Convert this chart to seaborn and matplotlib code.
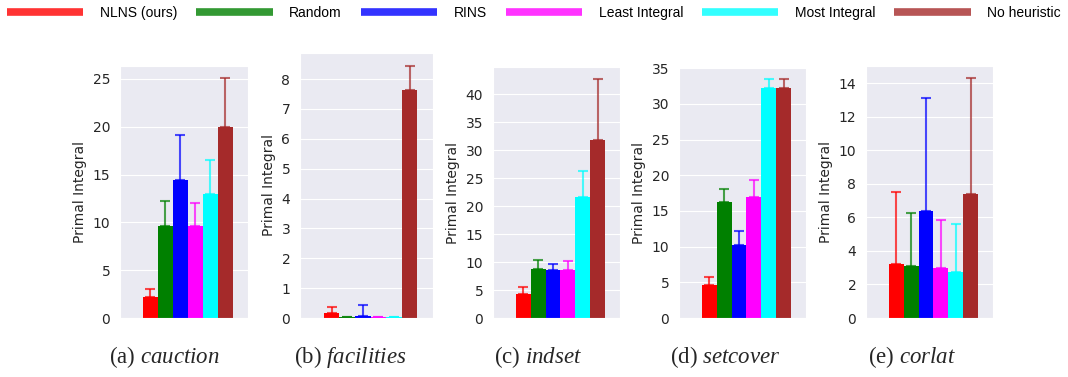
import numpy as np
import pandas as pd
import matplotlib
matplotlib.use("Agg")
import matplotlib.pyplot as plt
from matplotlib.lines import Line2D
import seaborn as sns

# methods and colours
methods = ["NLNS (ours)", "Random", "RINS", "Least Integral", "Most Integral", "No heuristic"]
colors = ["red", "green", "blue", "magenta", "cyan", "brown"]

# mean primal integral per dataset, and top of the error bar
cauction = [2.2, 9.6, 14.4, 9.6, 13.0, 20.0]
cauction_hi = [3.0, 12.2, 19.1, 12.0, 16.5, 25.1]
facilities = [0.18, 0.03, 0.06, 0.02, 0.02, 7.62]
facilities_hi = [0.36, 0.03, 0.45, 0.02, 0.02, 8.45]
indset = [4.3, 8.8, 8.5, 8.6, 21.6, 31.8]
indset_hi = [5.6, 10.4, 9.7, 10.1, 26.3, 42.7]
setcover = [4.6, 16.2, 10.3, 17.0, 32.2, 32.2]
setcover_hi = [5.8, 18.1, 12.2, 19.3, 33.5, 33.5]
corlat = [3.2, 3.1, 6.4, 3.0, 2.75, 7.4]
corlat_hi = [7.5, 6.25, 13.1, 5.85, 5.6, 14.3]

panels = [
    ("(a)", "cauction", cauction, cauction_hi),
    ("(b)", "facilities", facilities, facilities_hi),
    ("(c)", "indset", indset, indset_hi),
    ("(d)", "setcover", setcover, setcover_hi),
    ("(e)", "corlat", corlat, corlat_hi),
]

sns.set_style("darkgrid")
plt.rcParams["font.family"] = ["DejaVu Sans"]
plt.rcParams["mathtext.fontset"] = "custom"
plt.rcParams["mathtext.it"] = "Liberation Serif:italic"
plt.rcParams["mathtext.rm"] = "Liberation Serif"

W, H = 1068, 377
fig = plt.figure(figsize=(W / 100, H / 100), dpi=100)

# axes boxes in pixels: left, right, top (bottom is shared)
boxes = [(120, 248, 66), (300, 433, 53), (493, 620, 67), (679, 806, 67), (866, 993, 66)]
bottom = 318
caption_x = [164, 350, 538, 725, 912]

for (tag, name, vals, hi), (l, r, t), cx in zip(panels, boxes, caption_x):
    ax = fig.add_axes([l / W, (H - bottom) / H, (r - l) / W, (bottom - t) / H])
    df = pd.DataFrame({"group": ["g"] * len(methods), "method": methods, "value": vals})
    sns.barplot(data=df, x="group", y="value", hue="method", hue_order=methods,
                palette=colors, errorbar=None, width=0.8, saturation=1,
                legend=False, ax=ax, linewidth=0)
    # only the upper half of the error bar is shown
    for patch, m, h, c in zip(ax.patches, vals, hi, colors):
        x = patch.get_x() + patch.get_width() / 2
        ax.errorbar(x, m, yerr=[[0], [h - m]], color=c, alpha=0.7,
                    capsize=3.5, elinewidth=1.5, capthick=1.5)
    ax.set_xlim(-0.604, 0.534)
    ax.set_ylim(0, max(hi) * 1.05)
    ax.set_xticks([])
    ax.set_xlabel("")
    ax.set_ylabel("Primal Integral", fontsize=10)
    ax.tick_params(axis="y", labelsize=10)
    fig.text(cx / W, 1 - 357 / H, tag + " " + r"$\mathit{" + name + "}$",
             ha="center", va="center", fontsize=16.5, family="Liberation Serif")

handles = [Line2D([0], [0], color=c, lw=5.5, alpha=0.8, solid_capstyle="butt") for c in colors]
fig.legend(handles, methods, loc="center", bbox_to_anchor=(0.5, 1 - 13 / H),
           ncol=6, frameon=False, handlelength=5.5, handletextpad=1.2,
           columnspacing=1.35, labelcolor="black",
           prop={"family": "Liberation Sans", "size": 10})

fig.savefig("out.png", dpi=100)
